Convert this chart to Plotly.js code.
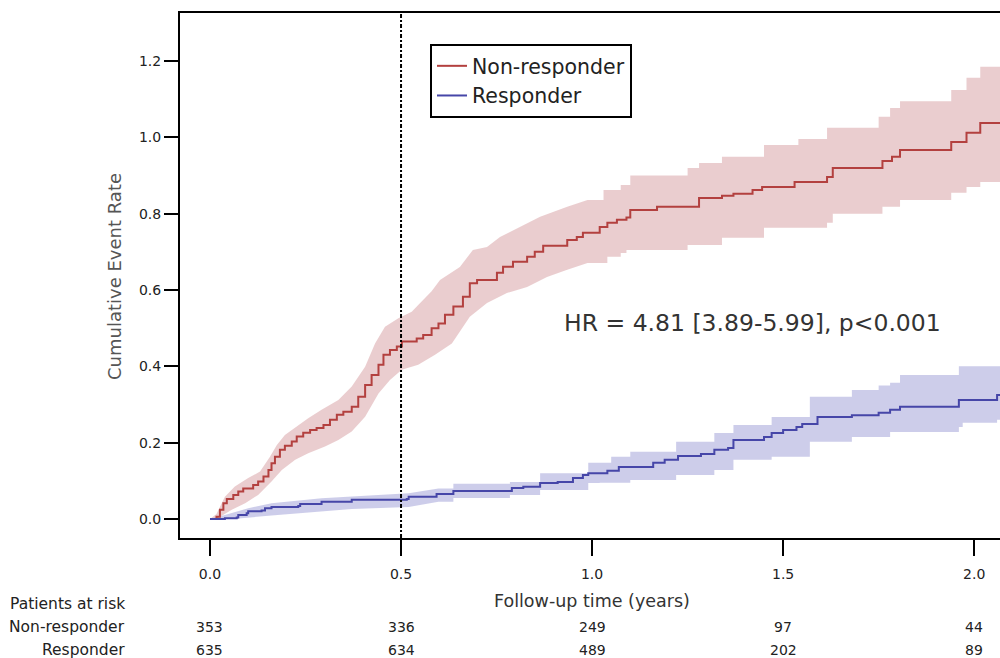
<!DOCTYPE html>
<html>
<head>
<meta charset="utf-8">
<script src="https://cdn.plot.ly/plotly-3.0.1.min.js"></script>
<style>
html,body{margin:0;padding:0;overflow:hidden;background:#fff;}
#chart{width:1040px;height:658px;}
</style>
</head>
<body>
<div id="chart"></div>
<script>
// ---- Data ----
const nonRespT = [0,0.017,0.026,0.035,0.044,0.061,0.074,0.087,0.10,0.113,0.126,0.14,0.153,0.161,0.17,0.183,0.196,0.214,0.227,0.244,0.262,0.279,0.297,0.314,0.332,0.349,0.371,0.388,0.406,0.423,0.441,0.454,0.471,0.489,0.502,0.519,0.541,0.558,0.58,0.598,0.615,0.637,0.662,0.68,0.699,0.751,0.767,0.793,0.83,0.85,0.872,0.935,0.96,0.976,1.02,1.04,1.065,1.09,1.10,1.17,1.28,1.34,1.37,1.42,1.445,1.53,1.615,1.63,1.76,1.785,1.806,1.94,1.98,2.016,2.12];
const nonRespV = [0,0.006,0.024,0.041,0.052,0.063,0.072,0.08,0.08,0.089,0.098,0.111,0.128,0.146,0.163,0.181,0.192,0.203,0.216,0.226,0.233,0.238,0.246,0.26,0.273,0.281,0.294,0.32,0.351,0.377,0.404,0.43,0.443,0.452,0.465,0.465,0.473,0.482,0.50,0.512,0.535,0.557,0.582,0.618,0.626,0.645,0.661,0.674,0.687,0.70,0.716,0.731,0.739,0.75,0.765,0.776,0.784,0.79,0.81,0.818,0.841,0.847,0.852,0.862,0.870,0.883,0.896,0.92,0.938,0.949,0.967,0.988,1.012,1.038,1.038];

const nonRespUpT = [0,0.017,0.039,0.065,0.10,0.131,0.157,0.175,0.196,0.227,0.257,0.292,0.336,0.371,0.406,0.432,0.458,0.493,0.528,0.55,0.58,0.602,0.654,0.688,0.725,0.759,0.812,0.864,0.935,0.988,1.03,1.075,1.10,1.25,1.28,1.34,1.45,1.54,1.615,1.75,1.78,1.806,1.94,1.98,2.016,2.12];
const nonRespUpV = [0,0.013,0.058,0.085,0.107,0.124,0.163,0.194,0.22,0.242,0.264,0.286,0.312,0.347,0.399,0.46,0.504,0.526,0.543,0.566,0.597,0.626,0.66,0.705,0.713,0.739,0.765,0.792,0.818,0.836,0.862,0.875,0.90,0.92,0.933,0.949,0.98,0.996,1.025,1.054,1.077,1.095,1.124,1.156,1.185,1.185];

const nonRespLoT = [0,0.02,0.057,0.092,0.126,0.161,0.188,0.223,0.257,0.301,0.336,0.371,0.406,0.441,0.471,0.502,0.545,0.589,0.633,0.68,0.725,0.777,0.83,0.882,0.935,0.988,1.04,1.075,1.09,1.25,1.34,1.45,1.615,1.63,1.76,1.806,1.94,1.98,2.016,2.12];
const nonRespLoV = [0,0.002,0.024,0.041,0.063,0.098,0.128,0.155,0.172,0.19,0.207,0.229,0.268,0.329,0.364,0.391,0.404,0.43,0.46,0.53,0.566,0.592,0.608,0.634,0.653,0.671,0.687,0.697,0.705,0.718,0.737,0.763,0.776,0.80,0.818,0.836,0.855,0.870,0.883,0.883];

const respT = [0,0.039,0.07,0.074,0.096,0.10,0.135,0.144,0.161,0.231,0.236,0.288,0.292,0.366,0.371,0.515,0.52,0.589,0.593,0.637,0.79,0.82,0.864,0.91,0.95,0.976,0.99,1.04,1.07,1.16,1.19,1.225,1.285,1.32,1.356,1.37,1.45,1.47,1.5,1.535,1.55,1.59,1.68,1.75,1.78,1.806,1.96,2.06,2.12];
const respV = [0,0.002,0.004,0.01,0.015,0.02,0.022,0.028,0.031,0.034,0.039,0.039,0.045,0.045,0.05,0.052,0.058,0.058,0.065,0.073,0.081,0.084,0.094,0.097,0.107,0.115,0.12,0.126,0.136,0.147,0.155,0.165,0.17,0.181,0.186,0.207,0.215,0.225,0.233,0.241,0.249,0.267,0.272,0.278,0.286,0.294,0.312,0.325,0.325];

const respUpT = [0,0.039,0.10,0.161,0.292,0.371,0.52,0.598,0.637,0.785,0.864,0.99,1.05,1.1,1.22,1.32,1.37,1.47,1.57,1.68,1.75,1.78,1.806,1.96,2.12];
const respUpV = [0,0.01,0.028,0.041,0.054,0.058,0.067,0.08,0.092,0.097,0.12,0.147,0.163,0.176,0.202,0.225,0.246,0.267,0.32,0.338,0.35,0.357,0.377,0.40,0.40];

const respLoT = [0,0.074,0.161,0.292,0.371,0.52,0.598,0.637,0.785,0.864,0.99,1.02,1.1,1.22,1.32,1.37,1.47,1.57,1.68,1.78,1.96,1.97,2.06,2.12];
const respLoV = [0,0.001,0.009,0.02,0.026,0.031,0.045,0.055,0.063,0.076,0.094,0.095,0.102,0.115,0.128,0.155,0.163,0.202,0.215,0.228,0.241,0.252,0.26,0.26];

const seriesNames = ["Non-responder","Responder"];
const xTicks = [0,0.5,1.0,1.5,2.0];
const xTickText = ["0.0","0.5","1.0","1.5","2.0"];
const yTicks = [0,0.2,0.4,0.6,0.8,1.0,1.2];
const yTickText = ["0.0","0.2","0.4","0.6","0.8","1.0","1.2"];
const riskTimes = [0,0.5,1.0,1.5,2.0];
const riskNon = [353,336,249,97,44];
const riskResp = [635,634,489,202,89];
const hrText = "HR = 4.81 [3.89-5.99], p<0.001";

// ---- Styles ----
const redLine = "#b3403f", redFill = "rgba(185,90,95,0.30)";
const blueLine = "#4646a8", blueFill = "rgba(90,90,185,0.30)";
const FONT = "DejaVu Sans, Open Sans, sans-serif";

// Band edges: early dense part drawn as a continuous edge, later part as steps
function edge(t, v, cut){
  const X = [], Y = [];
  for (let i = 0; i < t.length; i++){
    if (i > 0 && t[i] > cut){ X.push(t[i]); Y.push(v[i-1]); }
    X.push(t[i]); Y.push(v[i]);
  }
  return {X, Y};
}
function band(t1,v1,t2,v2,fill,cut){
  const lo = edge(t1,v1,cut), up = edge(t2,v2,cut);
  return [
    {x:lo.X,y:lo.Y,type:"scatter",mode:"lines",line:{width:0},showlegend:false,hoverinfo:"skip"},
    {x:up.X,y:up.Y,type:"scatter",mode:"lines",line:{width:0},fill:"tonexty",fillcolor:fill,showlegend:false,hoverinfo:"skip"}
  ];
}

const data = [
  ...band(nonRespLoT,nonRespLoV,nonRespUpT,nonRespUpV,redFill,0.99),
  ...band(respLoT,respLoV,respUpT,respUpV,blueFill,0.6),
  {x:nonRespT,y:nonRespV,type:"scatter",mode:"lines",name:seriesNames[0],line:{color:redLine,width:2,shape:"hv"}},
  {x:respT,y:respV,type:"scatter",mode:"lines",name:seriesNames[1],line:{color:blueLine,width:2,shape:"hv"}}
];

const annotations = [];
const yp = py => (538 - py) / 525;
const xp = px => (px - 180) / 840;
const txtFont = (s,c) => ({family:FONT,size:s,color:c||"#222"});
annotations.push({xref:"x",yref:"paper",x:1.0,y:yp(601),text:"Follow-up time (years)",showarrow:false,xanchor:"center",yanchor:"middle",font:txtFont(17.5,"#333")});
annotations.push({xref:"paper",yref:"paper",x:xp(114),y:yp(277),text:"Cumulative Event Rate",textangle:-90,showarrow:false,xanchor:"center",yanchor:"middle",font:txtFont(18,"#555")});
annotations.push({xref:"x",yref:"y",x:1.419,y:0.514,text:hrText,showarrow:false,xanchor:"center",yanchor:"middle",font:txtFont(23.5,"#333")});
annotations.push({xref:"paper",yref:"paper",x:xp(127),y:yp(604),text:"Patients at risk",showarrow:false,xanchor:"right",yanchor:"middle",font:txtFont(15.5)});
annotations.push({xref:"paper",yref:"paper",x:xp(127),y:yp(627),text:seriesNames[0],showarrow:false,xanchor:"right",yanchor:"middle",font:txtFont(15.5)});
annotations.push({xref:"paper",yref:"paper",x:xp(127),y:yp(650),text:seriesNames[1],showarrow:false,xanchor:"right",yanchor:"middle",font:txtFont(15.5)});
riskTimes.forEach((t,i)=>{
  annotations.push({xref:"x",yref:"paper",x:t,y:yp(627),text:String(riskNon[i]),showarrow:false,xanchor:"center",yanchor:"middle",font:txtFont(14)});
  annotations.push({xref:"x",yref:"paper",x:t,y:yp(650),text:String(riskResp[i]),showarrow:false,xanchor:"center",yanchor:"middle",font:txtFont(14)});
});

const layout = {
  width:1040, height:658,
  margin:{l:180,r:20,t:13,b:120},
  paper_bgcolor:"#fff", plot_bgcolor:"#fff",
  showlegend:true,
  legend:{x:xp(430),y:yp(44),xanchor:"left",yanchor:"top",traceorder:"normal",bgcolor:"#fff",bordercolor:"#000",borderwidth:2,font:txtFont(20.5),tracegroupgap:0},
  xaxis:{range:[-0.0785,2.12],tickvals:xTicks,ticktext:xTickText,ticks:"outside",ticklen:16,tickwidth:2,tickcolor:"#000",
         showline:true,linecolor:"#000",linewidth:2,mirror:true,showgrid:false,zeroline:false,ticklabelstandoff:6,
         tickfont:txtFont(14)},
  yaxis:{range:[-0.05,1.326],tickvals:yTicks,ticktext:yTickText,ticks:"outside",ticklen:14,tickwidth:2,tickcolor:"#000",
         showline:true,linecolor:"#000",linewidth:2,mirror:true,showgrid:false,zeroline:false,
         tickfont:txtFont(14)},
  shapes:[{type:"line",xref:"x",yref:"paper",x0:0.5,x1:0.5,y0:0,y1:1,line:{color:"#000",width:2,dash:"4px,2px,2px,2px"}}],
  annotations:annotations
};

Plotly.newPlot("chart",data,layout,{displayModeBar:false,staticPlot:true});
</script>
</body>
</html>
